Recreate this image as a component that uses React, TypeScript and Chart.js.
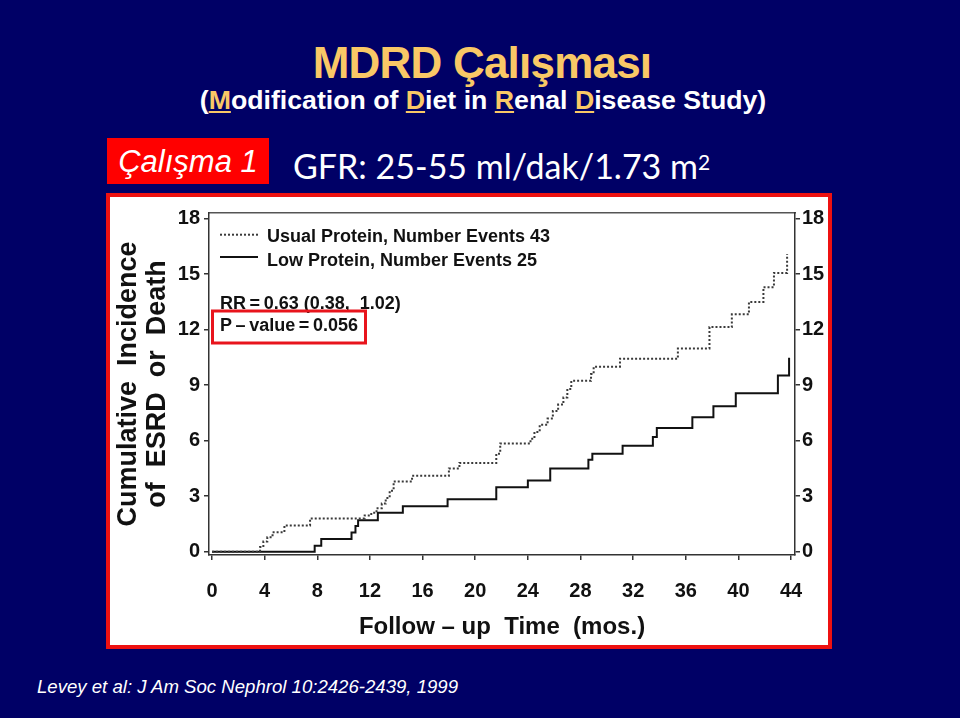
import React, { useEffect, useRef } from "react";
import { Chart, registerables } from "chart.js";

Chart.register(...registerables);

// ---- Data ----
const USUAL_LABEL = "Usual Protein, Number Events 43";
const LOW_LABEL = "Low Protein, Number Events 25";

// months at which the cumulative incidence (%) steps to the given value
const USUAL_MONTHS = [0, 3.65, 3.9, 4.2, 4.6, 5.5, 7.45, 11.6, 12.1, 12.5, 12.9, 13.2, 13.5, 13.8, 15.2, 18.0, 18.8, 21.6, 21.9, 24.2, 24.5, 24.9, 25.5, 25.9, 26.3, 26.7, 27.0, 27.3, 28.8, 29.0, 31.0, 35.4, 37.8, 39.5, 40.8, 41.9, 42.7, 43.7];
const USUAL_VALUES = [0, 0.25, 0.55, 0.78, 1.05, 1.42, 1.8, 1.96, 2.1, 2.35, 2.6, 2.9, 3.3, 3.8, 4.1, 4.5, 4.8, 5.3, 5.85, 6.1, 6.47, 6.86, 7.2, 7.6, 7.95, 8.34, 8.8, 9.24, 9.6, 10.0, 10.43, 10.98, 12.14, 12.83, 13.5, 14.3, 15.07, 16.1];

const LOW_MONTHS = [0, 7.8, 8.3, 10.6, 10.9, 11.1, 12.6, 14.5, 17.9, 21.6, 24.0, 25.7, 28.6, 28.9, 31.2, 33.5, 33.8, 36.5, 38.1, 39.8, 43.0, 43.85];
const LOW_VALUES = [0, 0.32, 0.69, 1.03, 1.39, 1.7, 2.1, 2.46, 2.83, 3.48, 3.85, 4.5, 4.97, 5.3, 5.72, 6.2, 6.68, 7.27, 7.86, 8.57, 9.53, 10.48];

const X_TICKS = [0, 4, 8, 12, 16, 20, 24, 28, 32, 36, 40, 44];
const Y_TICKS = [0, 3, 6, 9, 12, 15, 18];

const RR_TEXT = "RR\u2009=\u20090.63 (0.38,  1.02)";
const P_TEXT = "P\u2009\u2013\u2009value\u2009=\u20090.056";
const X_TITLE = "Follow \u2013 up  Time  (mos.)";
const Y_TITLE = ["Cumulative  Incidence", "of  ESRD  or  Death"];

const NAVY = "#000066";
const GOLD = "#F9C866";
const FONT = "'Liberation Sans', Arial, sans-serif";

const annotationPlugin = {
  id: "inlineLegend",
  afterDatasetsDraw(chart: any) {
    const { ctx, chartArea } = chart;
    const L = chartArea.left;
    const T = chartArea.top;
    const ds = chart.data.datasets;
    ctx.save();
    ctx.fillStyle = "#111";
    ctx.font = `bold 18px ${FONT}`;
    ctx.textBaseline = "middle";
    ctx.textAlign = "left";
    const rows = [
      { sy: 21.7, ty: 24.3 },
      { sy: 44, ty: 47.7 },
    ];
    ds.forEach((d: any, i: number) => {
      ctx.save();
      ctx.strokeStyle = d.borderColor;
      ctx.lineWidth = d.borderWidth;
      ctx.setLineDash(d.borderDash || []);
      ctx.beginPath();
      ctx.moveTo(L + 11, T + rows[i].sy);
      ctx.lineTo(L + 49, T + rows[i].sy);
      ctx.stroke();
      ctx.restore();
      ctx.fillText(d.label, L + 58, T + rows[i].ty);
    });
    ctx.fillText(RR_TEXT, L + 11, T + 91);
    ctx.fillText(P_TEXT, L + 11, T + 113.3);
    ctx.strokeStyle = "#e8141c";
    ctx.lineWidth = 3;
    ctx.strokeRect(L + 3.5, T + 98, 153, 32);
    ctx.restore();
  },
};

function makePoints(xs: number[], ys: number[]) {
  return xs.map((x, i) => ({ x, y: ys[i] }));
}

function ChartBox() {
  const ref = useRef<HTMLCanvasElement | null>(null);
  useEffect(() => {
    if (!ref.current) return;
    const tickFont = { family: FONT, size: 20, weight: "bold" as const };
    const axisColor = "#333";
    const common = {
      grid: { drawOnChartArea: false, drawTicks: true, tickLength: 5, color: axisColor, lineWidth: 1.5 },
      border: { display: true, color: axisColor, width: 1.5 },
    };
    const chart = new Chart(ref.current, {
      type: "line",
      data: {
        datasets: [
          {
            label: USUAL_LABEL,
            data: makePoints(USUAL_MONTHS, USUAL_VALUES),
            stepped: true,
            borderColor: "#3a3a3a",
            borderWidth: 2,
            borderDash: [2, 2],
            pointRadius: 0,
            fill: false,
          },
          {
            label: LOW_LABEL,
            data: makePoints(LOW_MONTHS, LOW_VALUES),
            stepped: true,
            borderColor: "#111",
            borderWidth: 2,
            pointRadius: 0,
            fill: false,
          },
        ],
      },
      options: {
        animation: false,
        responsive: false,
        devicePixelRatio: 1,
        layout: { padding: { top: 12, left: 0, right: 0, bottom: 0 } },
        plugins: { legend: { display: false }, tooltip: { enabled: false }, title: { display: false } },
        scales: {
          x: {
            type: "linear",
            position: "bottom",
            min: -0.23,
            max: 44.3,
            afterBuildTicks: (s: any) => {
              s.ticks = X_TICKS.map((v) => ({ value: v }));
            },
            afterFit: (s: any) => {
              s.height = 90;
            },
            ...common,
            ticks: { padding: 19, font: tickFont, color: "#111", maxRotation: 0 },
            title: {
              display: true,
              text: X_TITLE,
              color: "#111",
              font: { family: FONT, size: 24, weight: "bold" },
              padding: { top: 0, bottom: 3.6 },
            },
          },
          xTop: {
            type: "linear",
            position: "top",
            min: -0.23,
            max: 44.3,
            ticks: { display: false },
            grid: { display: false, drawTicks: false },
            border: { display: true, color: "#555", width: 1.5 },
            afterFit: (s: any) => {
              s.height = 0;
            },
          },
          y: {
            type: "linear",
            position: "left",
            min: -0.18,
            max: 18.31,
            afterBuildTicks: (s: any) => {
              s.ticks = Y_TICKS.map((v) => ({ value: v }));
            },
            afterFit: (s: any) => {
              s.width = 99;
            },
            ...common,
            ticks: { padding: 4, font: tickFont, color: "#111" },
            title: {
              display: true,
              text: Y_TITLE,
              color: "#111",
              font: { family: FONT, size: 27, weight: "bold", lineHeight: 29 / 27 },
              padding: { top: 4.5, bottom: 0 },
            },
          },
          yRight: {
            type: "linear",
            position: "right",
            min: -0.18,
            max: 18.31,
            afterBuildTicks: (s: any) => {
              s.ticks = Y_TICKS.map((v) => ({ value: v }));
            },
            afterFit: (s: any) => {
              s.width = 33;
            },
            ...common,
            ticks: { padding: 2, font: tickFont, color: "#111" },
          },
        },
      },
      plugins: [annotationPlugin],
    } as any);
    return () => chart.destroy();
  }, []);
  return <canvas ref={ref} width={718} height={448} style={{ display: "block", width: 718, height: 448 }} />;
}

const U = ({ c }: { c: string }) => (
  <span style={{ color: GOLD, textDecoration: "underline" }}>{c}</span>
);

export default function App() {
  return (
    <div
      style={{
        position: "fixed",
        left: 0,
        top: 0,
        width: 960,
        height: 718,
        background: NAVY,
        overflow: "hidden",
        fontFamily: FONT,
      }}
    >
      <div
        style={{
          position: "absolute",
          left: 0,
          top: 41,
          width: 964,
          textAlign: "center",
          color: GOLD,
          fontWeight: "bold",
          fontSize: 44,
          lineHeight: "44px",
          letterSpacing: -0.8,
          whiteSpace: "nowrap",
        }}
      >
        MDRD Çalışması
      </div>
      <div
        style={{
          position: "absolute",
          left: 0,
          top: 87,
          width: 966,
          textAlign: "center",
          color: "#fff",
          fontWeight: "bold",
          fontSize: 26.7,
          lineHeight: "26px",
          whiteSpace: "nowrap",
        }}
      >
        (<U c="M" />odification of <U c="D" />iet in <U c="R" />enal <U c="D" />isease Study)
      </div>
      <div
        style={{
          position: "absolute",
          left: 107,
          top: 138,
          width: 162,
          height: 46,
          background: "#ff0000",
          color: "#fff",
          display: "flex",
          alignItems: "center",
          justifyContent: "center",
          fontStyle: "italic",
          fontSize: 31,
          lineHeight: "31px",
          whiteSpace: "nowrap",
        }}
      >
        Çalışma 1
      </div>
      <div
        style={{
          position: "absolute",
          left: 293,
          top: 149,
          color: "#fff",
          fontFamily: "Lato, 'Open Sans', sans-serif",
          fontSize: 34,
          lineHeight: "34px",
          whiteSpace: "nowrap",
        }}
      >
        GFR: 25-55 ml/dak/1.73 m<sup style={{ fontSize: 21, verticalAlign: "top", position: "relative", top: -4 }}>2</sup>
      </div>
      <div
        style={{
          position: "absolute",
          left: 106,
          top: 193,
          width: 726,
          height: 456,
          boxSizing: "border-box",
          border: "4px solid #ee1111",
          background: "#fff",
        }}
      >
        <ChartBox />
      </div>
      <div
        style={{
          position: "absolute",
          left: 37,
          top: 677,
          color: "#fff",
          fontStyle: "italic",
          fontSize: 18.6,
          lineHeight: "19px",
          whiteSpace: "nowrap",
        }}
      >
        Levey et al: J Am Soc Nephrol 10:2426-2439, 1999
      </div>
    </div>
  );
}
